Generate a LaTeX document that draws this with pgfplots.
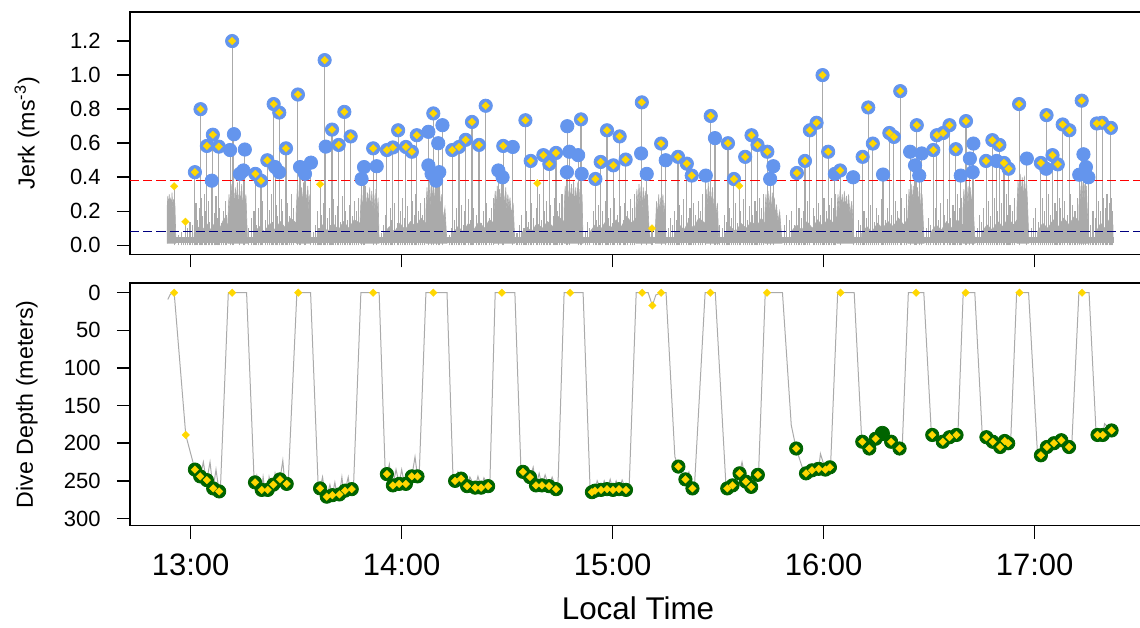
\documentclass[border=0pt]{standalone}
\usepackage{fontspec}
\setmainfont{Liberation Sans}
\usepackage{pgfplots}
\usepackage{pgfplotstable}
\pgfplotsset{compat=1.18}
\definecolor{cblue}{HTML}{6495ED}
\definecolor{gold}{HTML}{FFD700}
\definecolor{dgreen}{HTML}{006400}
\definecolor{tgray}{HTML}{AAAAAA}
\definecolor{navyb}{HTML}{000080}

% time in minutes after 12:00
\pgfplotstableread{
m j
61.2 0.43
62.8 0.80
64.6 0.584
66.3 0.65
68.0 0.58
71.8 1.20
78.4 0.42
80.0 0.38
81.8 0.50
83.6 0.83
85.2 0.78
87.1 0.57
90.5 0.886
98.1 1.088
100.2 0.68
102.1 0.59
103.7 0.784
105.5 0.64
111.9 0.57
115.8 0.56
117.5 0.575
119.0 0.676
121.2 0.578
122.9 0.55
124.3 0.647
129.0 0.775
134.4 0.56
136.3 0.578
138.2 0.62
140.0 0.725
142.0 0.59
143.9 0.82
148.9 0.584
155.2 0.735
156.7 0.496
160.3 0.53
162.0 0.478
163.9 0.543
171.0 0.74
175.1 0.39
176.6 0.49
178.4 0.676
180.2 0.47
182.0 0.64
183.7 0.504
188.3 0.84
193.8 0.598
198.6 0.52
201.1 0.48
202.5 0.41
207.9 0.76
212.8 0.60
214.5 0.39
217.7 0.52
219.5 0.647
221.2 0.59
224.0 0.55
232.4 0.425
234.7 0.496
236.1 0.676
238.0 0.72
239.7 1.0
241.3 0.55
244.7 0.44
251.1 0.52
252.7 0.81
254.0 0.598
258.7 0.66
260.0 0.637
261.8 0.906
266.5 0.706
271.2 0.56
272.2 0.647
274.0 0.66
275.8 0.706
277.6 0.565
280.5 0.73
286.2 0.496
288.0 0.618
290.0 0.59
291.3 0.484
292.6 0.45
295.6 0.83
301.8 0.484
303.4 0.765
305.1 0.53
306.6 0.476
308.0 0.71
309.9 0.676
313.4 0.85
317.7 0.716
319.2 0.72
321.7 0.69
}\peaksD

\pgfplotstableread{
m j
66.0 0.38
72.3 0.653
71.2 0.56
75.4 0.563
74.0 0.42
75.0 0.44
84.0 0.46
85.2 0.43
91.1 0.46
92.5 0.42
94.2 0.486
98.4 0.58
109.3 0.46
108.6 0.39
112.9 0.465
127.6 0.667
131.6 0.706
130.4 0.60
127.6 0.47
128.5 0.42
129.8 0.38
130.7 0.43
147.5 0.44
148.7 0.40
151.6 0.578
167.1 0.70
167.7 0.55
170.2 0.53
167.0 0.43
171.2 0.42
188.1 0.54
189.7 0.42
195.1 0.50
206.5 0.41
209.1 0.63
225.7 0.465
224.8 0.39
243.2 0.42
248.4 0.40
256.9 0.416
264.6 0.55
266.0 0.47
267.2 0.41
267.9 0.54
279.0 0.41
282.6 0.598
281.6 0.51
282.4 0.43
289.2 0.496
297.8 0.51
303.3 0.45
313.9 0.535
314.6 0.46
312.7 0.415
315.3 0.40
}\peaksC

\pgfplotstableread{
m j
55.3 0.347
58.5 0.139
96.8 0.359
158.6 0.365
191.2 0.10
216.0 0.35
}\peaksY

% dive-phase depth markers
\pgfplotstableread{
m d
61.2 235
62.7 244
64.6 249
66.4 260
68.1 264
78.3 252
80.2 262
81.9 262
83.5 255
85.4 248
87.3 254
96.8 260
98.7 271
100.3 269
102.3 268
103.9 263
105.8 261
115.8 241
117.5 256
119.3 254
121.2 254
122.9 244
124.5 244
135.2 250
136.9 247
138.6 257
140.9 259
142.6 259
144.6 257
154.5 238
156.5 245
158.2 256
159.9 256
161.9 257
163.9 261
174.1 265
175.0 263
176.7 262
178.4 261
180.1 262
181.8 261
183.8 262
198.7 231
200.7 248
202.7 260
212.6 260
214.1 256
216.1 240
217.9 251
219.4 258
221.3 242
232.2 207
235.0 240
236.7 236
238.6 234
240.5 235
241.8 232
251.0 198
253.0 207
254.8 194
259.2 198
261.6 207
270.9 189
273.9 198
275.8 192
277.8 189
286.3 192
288.1 198
290.2 205
291.5 197
292.5 200
301.8 216
303.5 205
305.5 200
307.6 196
309.8 205
317.9 189
319.4 189
321.9 183
}\depthB

\pgfplotstableread{
m d
55.3 0
58.6 189
71.8 0
90.6 0
111.9 0
129.0 0
148.5 0
167.9 0
188.4 0
191.3 17
193.8 0
207.8 0
223.9 0
244.8 0
266.3 0
280.4 0
295.7 0
313.5 0
}\depthS

\pgfplotsset{
  panel/.style={scale only axis, width=508pt, height=121.2pt,
    xmin=42.74, xmax=331.69,
    axis line style={line width=0.8pt},
    every tick/.style={line width=0.8pt, black},
    major tick length=6.5pt, tick align=outside,
    xtick={60,120,180,240,300}, xtick pos=bottom, ytick pos=left,
    /pgf/number format/assume math mode=true,
    yticklabel style={font=\fontsize{11}{13}\selectfont, anchor=east, inner sep=0pt, xshift=-8pt},
    ylabel style={font=\fontsize{11.6}{14}\selectfont, at={(axis description cs:-0.1014,0.5)}, anchor=center},
  },
  diam/.style={only marks, mark=square*, mark size=1.36pt,
    mark options={rotate=45, fill=gold, draw=gold, line width=0.1pt}},
  burst/.style={fill=tgray, draw=tgray, line width=0.3pt},
  spk/.style={ycomb, draw=tgray, line width=0.55pt},
}

\begin{document}
\begin{tikzpicture}
\begin{axis}[panel, name=top, at={(0,0)}, anchor=north west,
  ymin=-0.0529, ymax=1.3706,
  ytick={0,0.2,0.4,0.6,0.8,1.0,1.2},
  yticklabel style={/pgf/number format/.cd, fixed, fixed zerofill, precision=1},
  xticklabels={},
  ylabel={Jerk (ms\textsuperscript{-3})}]
% noise floor
\addplot[burst] coordinates {(53.3,0.012) (53.3,0.045) (322.3,0.045) (322.3,0.012)};
% low dense activity during the bottom phases
\addplot[burst] coordinates {(61.0,.02)(61.0,.07)(62.0,.11)(63.2,.08)(64.5,.13)(65.8,.09)(67.0,.14)(68.3,.1)(69.5,.16)(70.6,.12)(70.6,.02)};
\addplot[burst] coordinates {(78.0,.02)(78.0,.07)(79.5,.11)(81.0,.08)(82.5,.13)(84.0,.09)(85.5,.14)(87.0,.1)(88.5,.16)(90.0,.13)(90.0,.02)};
\addplot[burst] coordinates {(96.0,.02)(96.0,.07)(97.5,.12)(99.0,.08)(100.5,.13)(102.0,.09)(103.5,.14)(105.0,.1)(106.5,.15)(108.2,.13)(108.2,.02)};
\addplot[burst] coordinates {(115.0,.02)(115.0,.07)(116.5,.11)(118.0,.08)(119.5,.13)(121.0,.09)(122.5,.14)(124.0,.11)(125.5,.16)(126.9,.13)(126.9,.02)};
\addplot[burst] coordinates {(134.6,.02)(134.6,.07)(136.0,.11)(137.5,.08)(139.0,.13)(140.5,.09)(142.0,.14)(143.5,.1)(145.0,.15)(146.3,.13)(146.3,.02)};
\addplot[burst] coordinates {(154.0,.02)(154.0,.07)(155.5,.11)(157.0,.08)(158.5,.13)(160.0,.1)(161.5,.14)(163.0,.11)(164.5,.17)(166.2,.14)(166.2,.02)};
\addplot[burst] coordinates {(173.6,.02)(173.6,.08)(175.0,.12)(176.5,.09)(178.0,.14)(179.5,.1)(181.0,.15)(182.5,.11)(184.0,.17)(185.5,.13)(186.6,.16)(186.6,.02)};
\addplot[burst] coordinates {(197.7,.02)(197.7,.07)(199.0,.12)(200.3,.09)(201.6,.14)(203.0,.1)(204.5,.16)(206.3,.13)(206.3,.02)};
\addplot[burst] coordinates {(212.0,.02)(212.0,.07)(213.5,.11)(215.0,.08)(216.5,.13)(218.0,.1)(219.5,.14)(221.0,.11)(222.3,.16)(223.3,.13)(223.3,.02)};
\addplot[burst] coordinates {(230.8,.02)(230.8,.08)(232.3,.12)(233.8,.09)(235.3,.14)(236.8,.1)(238.3,.15)(239.8,.11)(241.3,.16)(242.8,.13)(243.8,.17)(243.8,.02)};
\addplot[burst] coordinates {(250.8,.02)(250.8,.07)(252.3,.11)(253.8,.08)(255.3,.13)(256.8,.1)(258.3,.14)(259.8,.11)(261.3,.16)(262.8,.12)(264.0,.16)(264.0,.02)};
\addplot[burst] coordinates {(270.6,.02)(270.6,.08)(272.0,.12)(273.5,.09)(275.0,.14)(276.5,.1)(278.0,.15)(279.6,.12)(279.6,.02)};
\addplot[burst] coordinates {(285.0,.02)(285.0,.08)(286.5,.12)(288.0,.09)(289.5,.14)(291.0,.11)(292.5,.16)(294.0,.12)(295.0,.15)(295.0,.02)};
\addplot[burst] coordinates {(300.8,.02)(300.8,.08)(302.3,.13)(303.8,.1)(305.3,.15)(306.8,.11)(308.3,.16)(309.8,.12)(311.3,.17)(312.6,.14)(312.6,.02)};
\addplot[burst] coordinates {(317.5,.02)(317.5,.08)(318.8,.13)(320.0,.1)(321.2,.15)(322.3,.12)(322.3,.02)};
% dense surface bursts
\addplot[burst] coordinates {(53.3,.01)(53.3,.22)(53.5,.29)(53.7,.2)(53.9,.3)(54.1,.22)(54.3,.28)(54.5,.19)(54.7,.31)(54.9,.2)(55.1,.27)(55.3,.18)(55.5,.25)(55.7,.1)(55.8,.01)};
\addplot[burst] coordinates {(70.6,.01)(70.6,.15)(70.9,.3)(71.2,.2)(71.5,.36)(71.8,.24)(72.1,.38)(72.4,.22)(72.7,.34)(73.0,.25)(73.3,.37)(73.6,.21)(73.9,.33)(74.2,.24)(74.5,.36)(74.8,.2)(75.1,.32)(75.4,.22)(75.7,.3)(76.0,.12)(76.2,.01)};
\addplot[burst] coordinates {(90.0,.01)(90.0,.18)(90.3,.33)(90.6,.22)(90.9,.36)(91.2,.2)(91.5,.34)(91.8,.23)(92.1,.37)(92.4,.21)(92.7,.32)(93.0,.24)(93.3,.35)(93.6,.2)(93.9,.3)(94.2,.01)};
\addplot[burst] coordinates {(108.2,.01)(108.2,.15)(108.5,.3)(108.8,.2)(109.1,.33)(109.4,.22)(109.7,.35)(110.0,.2)(110.3,.31)(110.6,.23)(110.9,.34)(111.2,.19)(111.5,.32)(111.8,.22)(112.1,.3)(112.4,.2)(112.7,.33)(113.0,.18)(113.3,.28)(113.6,.01)};
\addplot[burst] coordinates {(126.9,.01)(126.9,.2)(127.2,.34)(127.5,.24)(127.8,.38)(128.1,.22)(128.4,.36)(128.7,.25)(129.0,.39)(129.3,.23)(129.6,.35)(129.9,.22)(130.2,.37)(130.5,.24)(130.8,.33)(131.1,.2)(131.4,.3)(131.8,.15)(132.3,.22)(132.9,.01)};
\addplot[burst] coordinates {(146.3,.01)(146.3,.2)(146.6,.32)(146.9,.22)(147.2,.35)(147.5,.2)(147.8,.33)(148.1,.24)(148.4,.36)(148.7,.21)(149.0,.31)(149.3,.23)(149.6,.34)(149.9,.2)(150.2,.3)(150.5,.22)(150.8,.28)(151.2,.18)(151.7,.25)(152.2,.01)};
\addplot[burst] coordinates {(166.2,.01)(166.2,.2)(166.5,.35)(166.8,.24)(167.1,.38)(167.4,.22)(167.7,.37)(168.0,.25)(168.3,.36)(168.6,.23)(168.9,.38)(169.2,.22)(169.5,.34)(169.8,.24)(170.1,.37)(170.4,.2)(170.7,.33)(171.0,.22)(171.3,.3)(171.6,.01)};
\addplot[burst] coordinates {(186.6,.01)(186.6,.2)(186.9,.33)(187.2,.22)(187.5,.36)(187.8,.24)(188.1,.35)(188.4,.2)(188.7,.34)(189.0,.23)(189.3,.32)(189.6,.2)(189.9,.3)(190.3,.12)(190.8,.01)};
\addplot[burst] coordinates {(192.2,.01)(192.2,.12)(192.5,.26)(192.8,.16)(193.1,.3)(193.4,.18)(193.7,.28)(194.0,.2)(194.3,.3)(194.6,.17)(194.9,.25)(195.2,.01)};
\addplot[burst] coordinates {(206.3,.01)(206.3,.2)(206.6,.33)(206.9,.22)(207.2,.37)(207.5,.24)(207.8,.35)(208.1,.22)(208.4,.34)(208.7,.2)(209.0,.3)(209.4,.18)(209.8,.25)(210.2,.01)};
\addplot[burst] coordinates {(223.3,.01)(223.3,.18)(223.6,.3)(223.9,.2)(224.2,.32)(224.5,.21)(224.8,.3)(225.1,.19)(225.4,.31)(225.7,.2)(226.0,.28)(226.3,.16)(226.6,.24)(227.0,.14)(227.5,.2)(228.2,.01)};
\addplot[burst] coordinates {(243.8,.01)(243.8,.2)(244.1,.3)(244.4,.2)(244.7,.33)(245.0,.22)(245.3,.3)(245.6,.2)(245.9,.32)(246.2,.21)(246.5,.29)(246.8,.19)(247.1,.3)(247.5,.18)(248.0,.26)(248.7,.01)};
\addplot[burst] coordinates {(264.0,.01)(264.0,.2)(264.3,.33)(264.6,.22)(264.9,.36)(265.2,.24)(265.5,.35)(265.8,.21)(266.1,.37)(266.4,.23)(266.7,.34)(267.0,.22)(267.3,.36)(267.6,.2)(268.0,.3)(268.6,.01)};
\addplot[burst] coordinates {(279.6,.01)(279.6,.2)(279.9,.33)(280.2,.22)(280.5,.36)(280.8,.24)(281.1,.35)(281.4,.2)(281.7,.34)(282.0,.22)(282.3,.33)(282.6,.2)(283.1,.01)};
\addplot[burst] coordinates {(295.0,.01)(295.0,.22)(295.3,.38)(295.6,.26)(295.9,.42)(296.2,.28)(296.5,.4)(296.8,.25)(297.1,.41)(297.4,.27)(297.7,.38)(298.0,.24)(298.4,.01)};
\addplot[burst] coordinates {(312.6,.01)(312.6,.22)(312.9,.35)(313.2,.25)(313.5,.37)(313.8,.24)(314.1,.36)(314.4,.22)(314.7,.35)(315.0,.2)(315.5,.01)};
% spikes during dives
\addplot[spk] coordinates {(56.5,.06)(57.3,.08)(58.0,.05)(59.0,.1)(59.8,.14)(60.5,.12)(61.0,.18)(61.5,.25)(62.0,.15)(62.4,.22)(63.0,.28)(63.4,.17)(63.9,.3)(64.3,.2)(65.0,.26)(65.4,.14)(65.8,.24)(66.7,.19)(67.2,.29)(67.5,.16)(68.3,.22)(68.8,.13)(69.3,.2)(69.8,.26)(70.2,.18)
(76.5,.1)(77.3,.16)(78.0,.2)(78.8,.12)(79.3,.22)(79.9,.18)(80.5,.26)(81.2,.15)(82.3,.21)(82.9,.3)(83.2,.14)(84.4,.24)(84.8,.17)(85.7,.27)(86.0,.2)(86.5,.12)(87.6,.25)(88.2,.17)(88.7,.3)(89.3,.22)
(94.8,.08)(95.5,.12)(96.0,.2)(96.5,.1)(97.1,.18)(97.7,.25)(98.9,.16)(99.4,.22)(99.9,.12)(100.7,.27)(101.3,.18)(101.8,.23)(102.6,.14)(103.2,.29)(104.1,.2)(104.5,.15)(105.1,.24)(106.0,.17)(106.6,.26)(107.2,.2)(107.7,.28)
(114.2,.07)(114.9,.12)(115.5,.18)(116.2,.1)(116.7,.22)(117.2,.15)(118.0,.25)(118.7,.13)(119.6,.2)(120.3,.28)(120.9,.16)(121.6,.23)(122.3,.12)(123.2,.26)(123.6,.18)(124.0,.3)(124.8,.2)(125.4,.25)(126.0,.18)(126.5,.28)
(133.5,.06)(134.2,.1)(134.9,.15)(135.6,.22)(136.5,.14)(137.0,.24)(137.5,.12)(138.0,.2)(138.9,.27)(139.6,.15)(140.3,.22)(141.2,.18)(141.9,.26)(142.8,.13)(143.2,.2)(144.2,.25)(144.9,.16)(145.5,.22)(146.0,.28)
(152.8,.07)(153.5,.12)(154.0,.18)(154.8,.1)(155.5,.2)(156.0,.14)(157.0,.25)(157.6,.16)(158.5,.22)(159.3,.3)(159.7,.15)(160.5,.2)(161.2,.26)(161.6,.12)(162.4,.24)(163.2,.17)(163.6,.28)(164.3,.2)(164.9,.25)(165.6,.3)
(172.2,.08)(172.9,.14)(173.5,.1)(174.5,.2)(175.3,.15)(175.9,.24)(176.3,.12)(177.0,.2)(177.9,.26)(178.8,.16)(179.5,.22)(179.9,.13)(180.6,.28)(181.3,.18)(182.3,.23)(183.0,.15)(183.4,.25)(184.2,.2)(185.0,.27)(185.6,.22)(186.1,.3)
(195.8,.1)(196.4,.16)(197.0,.12)(197.5,.2)(198.2,.15)(199.0,.24)(199.6,.18)(200.2,.27)(201.5,.16)(202.0,.22)(203.0,.25)(203.6,.18)(204.3,.26)(204.9,.2)(205.5,.3)
(209.8,.08)(210.5,.12)(211.2,.1)(211.9,.18)(212.4,.14)(213.2,.22)(213.8,.16)(214.9,.25)(215.5,.13)(216.4,.2)(217.2,.27)(218.3,.15)(218.8,.23)(219.9,.18)(220.5,.26)(221.0,.2)(221.8,.28)(222.4,.22)(222.9,.3)
(228.8,.12)(229.5,.18)(230.2,.15)(230.9,.2)(231.6,.12)(233.0,.22)(233.6,.16)(234.3,.2)(235.3,.26)(236.0,.14)(237.0,.22)(237.3,.17)(238.5,.25)(239.2,.18)(240.1,.28)(240.8,.2)(241.6,.24)(242.3,.28)(242.8,.22)(243.3,.3)
(249.3,.08)(250.0,.15)(250.6,.12)(251.5,.2)(252.2,.16)(253.4,.24)(254.4,.14)(255.0,.22)(255.7,.18)(256.4,.27)(257.5,.15)(258.2,.22)(259.3,.18)(260.4,.26)(261.0,.2)(262.2,.28)(262.9,.22)(263.5,.3)
(269.2,.1)(269.9,.16)(270.5,.12)(271.7,.22)(272.6,.15)(273.3,.25)(274.5,.18)(275.2,.27)(276.2,.16)(276.8,.24)(277.2,.2)(278.0,.3)(278.6,.22)(279.2,.28)
(283.7,.1)(284.4,.18)(285.0,.14)(285.6,.22)(286.8,.26)(287.4,.17)(288.6,.28)(289.5,.2)(290.6,.25)(291.9,.3)(292.2,.18)(293.0,.24)(293.6,.2)(294.3,.28)
(299.0,.1)(299.6,.16)(300.3,.22)(301.0,.14)(302.3,.28)(302.8,.2)(304.0,.3)(304.6,.18)(305.8,.25)(306.2,.2)(307.0,.28)(307.3,.22)(308.6,.26)(309.3,.18)(310.3,.3)(310.9,.24)(311.5,.2)(312.1,.28)
(316.0,.12)(316.6,.2)(317.2,.16)(318.3,.26)(318.7,.2)(319.6,.28)(320.2,.22)(320.6,.3)(321.2,.25)(321.9,.28)(322.2,.2)};
% stems up to the peaks
\addplot[spk] table[x=m,y=j] {\peaksD};
\addplot[spk] table[x=m,y=j] {\peaksC};
\addplot[spk] table[x=m,y=j] {\peaksY};
% thresholds
\addplot[red, line width=0.6pt, dash pattern=on 4.6pt off 2pt] coordinates {(42.74,0.382) (331.69,0.382)};
\addplot[navyb, line width=0.6pt, dash pattern=on 4.6pt off 2pt] coordinates {(42.74,0.082) (331.69,0.082)};
% peaks
\addplot[only marks, mark=*, mark size=3.33pt, cblue] table[x=m,y=j] {\peaksC};
\addplot[only marks, mark=*, mark size=3.33pt, cblue] table[x=m,y=j] {\peaksD};
\addplot[diam] table[x=m,y=j] {\peaksD};
\addplot[diam] table[x=m,y=j] {\peaksY};
\end{axis}

\begin{axis}[panel, at={(0,-135.55pt)}, anchor=north west,
  y dir=reverse, ymin=-12.74, ymax=309.3,
  ytick={0,50,100,150,200,250,300},
  xticklabels={13:00,14:00,15:00,16:00,17:00},
  xticklabel style={font=\fontsize{15.5}{18}\selectfont, anchor=north, inner sep=0pt, yshift=-7.5pt},
  xlabel={Local Time},
  xlabel style={font=\fontsize{15.7}{18}\selectfont, at={(axis description cs:0.5,-0.3408)}, anchor=center},
  ylabel={Dive Depth (meters)}]
\addplot[tgray, line width=0.5pt] coordinates {
(53.5,9)(54.1,3)(54.7,0)(55.3,0)(58.6,189)(61.2,235)(61.8,240)(62.7,245)(63.6,225)(64.1,240)(64.6,249)(65.5,225)(66.1,250)(66.4,260)(67.2,235)(67.8,255)(68.1,264)(68.5,255)(70.7,0)(75.9,0)
(78.0,245)(78.3,252)(78.8,243)(79.2,255)(79.7,258)(80.2,262)(80.6,245)(81.1,262)(81.9,262)(82.3,245)(82.8,255)(83.5,255)(84.0,240)(84.6,252)(85.4,248)(86.2,223)(86.7,250)(87.3,253)(87.8,245)(90.2,0)(94.1,0)
(96.3,262)(96.8,260)(97.5,245)(98.2,268)(98.7,271)(99.6,255)(100.3,269)(101.0,252)(101.6,268)(102.3,268)(103.0,245)(103.5,265)(103.9,263)(104.8,245)(105.3,262)(105.8,261.5)(106.3,258)(108.4,0)(113.6,0)
(115.3,235)(115.8,241)(116.5,228)(117.0,250)(117.5,256)(118.4,235)(119.3,254)(120.0,235)(120.7,252)(121.2,254)(122.1,245)(122.9,244)(123.8,218)(124.5,244)(125.0,240)(126.9,0)(132.9,0)
(134.6,245)(135.2,250)(136.0,238)(136.9,247)(137.7,240)(138.6,257)(139.4,245)(140.9,259)(141.7,244)(142.6,259)(143.4,246)(144.6,257)(145.1,250)(146.6,0)(152.2,0)
(153.9,232)(154.5,238)(155.7,243)(156.5,245)(157.4,232)(158.2,256)(159.1,240)(159.9,256)(160.8,242)(161.9,257)(162.8,245)(163.9,261)(164.5,250)(166.2,0)(171.6,0)
(173.6,262)(174.1,265)(175.0,263)(175.6,250)(176.7,262)(177.6,250)(178.4,261)(179.3,248)(180.1,262)(181.0,250)(181.8,261)(182.7,249)(183.8,262)(184.7,258)(186.7,0)(190.1,0)(191.3,17)(192.3,3)(193.8,0)(195.2,0)
(197.7,218)(198.7,231)(200.7,248)(201.7,238)(202.7,260)(203.3,255)(206.3,0)(209.2,0)
(212.2,254)(212.6,260)(214.1,256)(215.0,245)(216.1,240)(216.8,225)(217.9,251)(219.4,258)(220.3,245)(221.3,242)(221.5,240)(223.4,0)(228.3,0)
(230.8,176)(232.2,207)(234.2,236)(235.0,240)(236.7,236)(237.6,226)(238.6,234)(239.1,214)(240.5,235)(241.8,232)(242.0,228)(244.0,0)(248.7,0)
(250.8,192)(251.0,198)(253.0,207)(254.8,194)(256.7,187)(259.2,198)(261.6,207)(262.4,200)(264.1,0)(268.5,0)
(270.6,183)(270.9,189)(273.9,198)(275.8,192)(277.8,189)(278.2,188)(279.7,0)(283.0,0)
(285.1,187)(286.3,192)(288.1,198)(290.2,205)(291.5,197)(292.5,200)(293.2,198)(294.9,0)(298.3,0)
(300.8,212)(301.8,216)(303.5,205)(305.5,200)(306.5,195)(307.6,196)(309.8,205)(310.6,200)(312.6,0)(315.5,0)
(317.5,187)(317.9,189)(319.4,189)(319.9,174)(321.9,183)(322.3,182)};
\addplot[only marks, mark=*, mark size=3.33pt, dgreen] table[x=m,y=d] {\depthB};
\addplot[only marks, mark=*, mark size=3.6pt, dgreen] coordinates {(256.7,187)};
\addplot[diam] table[x=m,y=d] {\depthB};
\addplot[diam] table[x=m,y=d] {\depthS};
\end{axis}
\pgfresetboundingbox
\path[use as bounding box] (-65pt,6pt) rectangle (505pt,-307.5pt);
\end{tikzpicture}
\end{document}
